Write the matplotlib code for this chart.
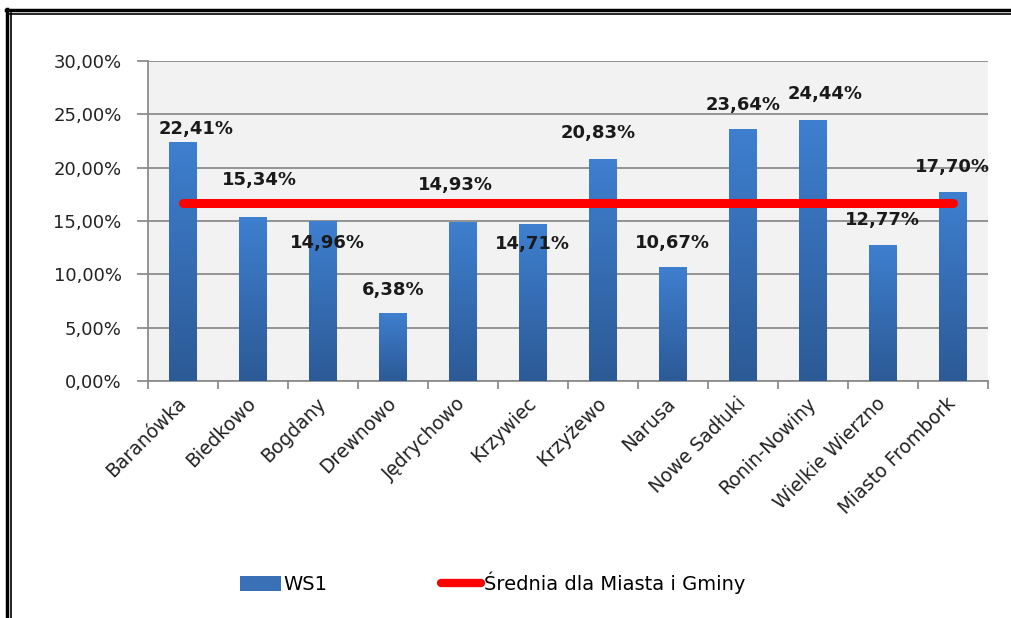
import matplotlib
matplotlib.use('Agg')
import matplotlib.pyplot as plt
import numpy as np
from matplotlib.colors import LinearSegmentedColormap
from matplotlib.lines import Line2D
from matplotlib.patches import Patch
from matplotlib.ticker import FixedLocator, FuncFormatter

plt.rcParams['font.family'] = ['DejaVu Sans']

# data
categories = ['Baranówka', 'Biedkowo', 'Bogdany', 'Drewnowo', 'Jędrychowo', 'Krzywiec',
              'Krzyżewo', 'Narusa', 'Nowe Sadłuki', 'Ronin-Nowiny', 'Wielkie Wierzno',
              'Miasto Frombork']
ws1 = [22.41, 15.34, 14.96, 6.38, 14.93, 14.71, 20.83, 10.67, 23.64, 24.44, 12.77, 17.70]
srednia = 16.66
series_names = ['WS1', 'Średnia dla Miasta i Gminy']

# where the value labels sit (as in the original excel chart)
label_y = [23.6, 18.8, 12.95, 8.55, 18.4, 12.85, 23.25, 12.95, 25.9, 26.9, 15.1, 20.05]
label_dx = [0.19, 0.09, 0.07, 0.0, -0.11, 0.0, -0.07, 0.0, 0.0, 0.17, 0.0, 0.0]

bar_top = '#3e7fcf'
bar_bot = '#2c5a96'
grad = LinearSegmentedColormap.from_list('g', [bar_bot, bar_top])

fig = plt.figure(figsize=(10.12, 6.18), dpi=100)
ax = fig.add_axes([0.1462, 0.3835, 0.830, 0.5178])
ax.set_facecolor('#f2f2f2')

x = np.arange(len(categories))
bars = ax.bar(x, ws1, width=0.4, color='none', edgecolor='none', zorder=3)
for b in bars:
    x0, y0 = b.get_x(), b.get_y()
    w, h = b.get_width(), b.get_height()
    im = ax.imshow(np.linspace(0, 1, 100).reshape(-1, 1), cmap=grad, origin='lower',
                   extent=[x0, x0 + w, y0, y0 + h], aspect='auto', zorder=3)
    im.set_clip_path(b)

ax.plot([x[0], x[-1]], [srednia, srednia], color='#ff0000', lw=6.5,
        solid_capstyle='round', zorder=4)

for i, v in enumerate(ws1):
    ax.text(x[i] + label_dx[i], label_y[i], ('%.2f%%' % v).replace('.', ','),
            ha='center', va='center', fontsize=13, fontweight='bold',
            color='#1a1a1a', zorder=5)

ax.set_xlim(-0.5, len(categories) - 0.5)
ax.set_ylim(0, 30)
ax.set_yticks(np.arange(0, 31, 5))
ax.yaxis.set_major_formatter(FuncFormatter(lambda v, p: ('%.2f%%' % v).replace('.', ',')))
ax.grid(axis='y', color='#8c8c8c', lw=1.3, zorder=1)
ax.set_axisbelow(True)

ax.set_xticks(x)
ax.set_xticklabels(categories, rotation=45, ha='right', va='center', rotation_mode='anchor',
                   fontsize=13.5, color='#222222')
ax.xaxis.set_minor_locator(FixedLocator(np.arange(-0.5, len(categories), 1)))
ax.tick_params(axis='x', which='major', length=0, pad=14)
ax.tick_params(axis='x', which='minor', length=6, color='#8c8c8c', width=1.3)
ax.tick_params(axis='y', length=8, color='#8c8c8c', width=1.3, labelsize=13,
               labelcolor='#222222', pad=11)

for s in ['top', 'right']:
    ax.spines[s].set_visible(False)
for s in ['left', 'bottom']:
    ax.spines[s].set_color('#8c8c8c')
    ax.spines[s].set_linewidth(1.3)

handles = [Patch(facecolor='#3a70b5', edgecolor='none'),
           Line2D([0], [0], color='#ff0000', lw=6, solid_capstyle='round')]
fig.legend(handles, series_names, loc='center left', bbox_to_anchor=(240 / 1012, 1 - 583 / 618),
           ncol=2, frameon=False, fontsize=14, handlelength=2.1, handleheight=0.8,
           handletextpad=0.15, columnspacing=5.8, borderpad=0, borderaxespad=0)

# double frame lines (left and top)
fig.add_artist(Line2D([7.5 / 1012, 7.5 / 1012], [0, 1 - 9 / 618], color='black', lw=2.5,
                      transform=fig.transFigure))
fig.add_artist(Line2D([10.5 / 1012, 10.5 / 1012], [0, 1 - 13 / 618], color='black', lw=1.2,
                      transform=fig.transFigure))
fig.add_artist(Line2D([6.3 / 1012, 1], [1 - 10 / 618, 1 - 10 / 618], color='black', lw=2.5,
                      transform=fig.transFigure))
fig.add_artist(Line2D([9.9 / 1012, 1], [1 - 13.5 / 618, 1 - 13.5 / 618], color='black', lw=1.2,
                      transform=fig.transFigure))

plt.savefig('out.png', dpi=100)
